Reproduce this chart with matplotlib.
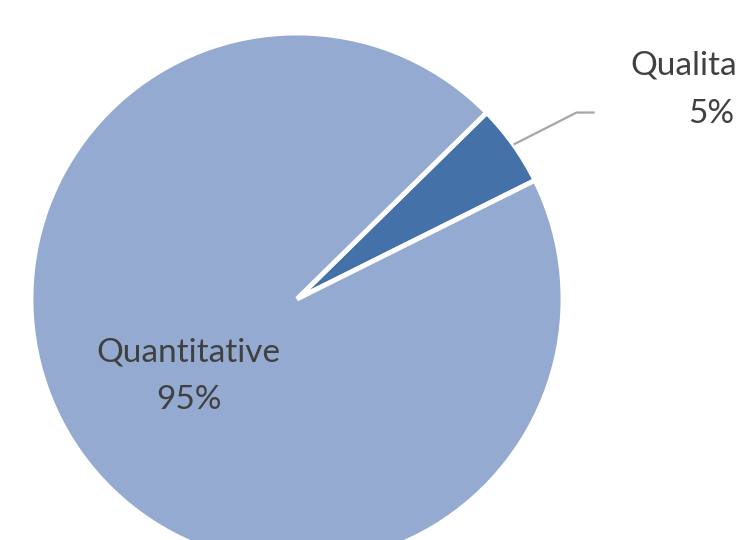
import numpy as np
import matplotlib
matplotlib.use("Agg")
import matplotlib.pyplot as plt

labels = ["Qualitative", "Quantitative"]
shares = [5, 95]
colors = ["#4472a8", "#95aad0"]

fig = plt.figure(figsize=(7.36, 5.4), dpi=100)
ax = fig.add_axes([0, 0, 1, 1])

cx, cy, r = 297, 241, 266
start = 26.5
wedges, _ = ax.pie(shares, colors=colors, startangle=start, counterclock=True,
                   center=(cx, cy), radius=r, frame=True,
                   wedgeprops=dict(edgecolor="white", linewidth=3.5))
ax.set_xlim(0, 736)
ax.set_ylim(0, 540)
ax.set_aspect("equal")
ax.axis("off")

font = dict(family="Lato", fontsize=24, color="#404040")

# label positions from wedge mid angles
for w, lab, s in zip(wedges, labels, shares):
    mid = np.deg2rad((w.theta1 + w.theta2) / 2)
    txt = f"{lab}\n{s}%"
    if s < 10:
        x0, y0 = cx + r * np.cos(mid), cy + r * np.sin(mid)
        x1, y1 = x0 + 63, y0 + 32
        ax.plot([x0, x1, x1 + 18], [y0, y1, y1], color="#a6a6a6", lw=1.6,
                solid_capstyle="butt")
        ax.text(711, y1 + 23, txt, ha="center", va="center",
                linespacing=1.75, **font)
    else:
        ax.text(cx + 0.5 * r * np.cos(mid), cy + 0.5 * r * np.sin(mid), txt,
                ha="center", va="center", linespacing=1.75, **font)

fig.savefig("out.png", dpi=100)
